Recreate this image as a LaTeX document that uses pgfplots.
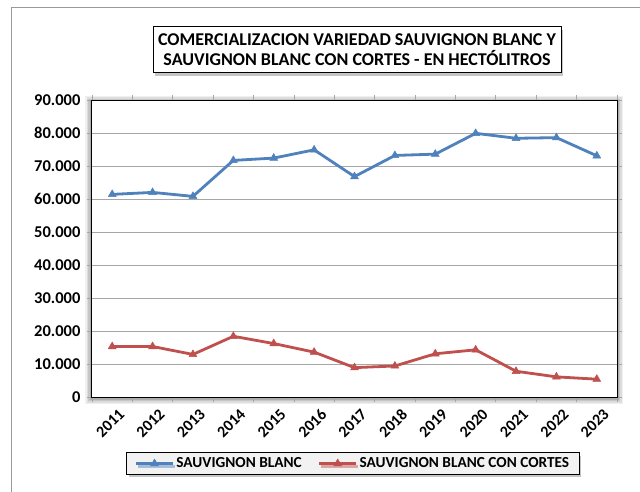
\documentclass[border=0pt]{standalone}
\usepackage{pgfplots}
\pgfplotsset{compat=1.18}
\usepackage{fontspec}
\setmainfont{Carlito}
\usetikzlibrary{shadows}

\definecolor{sbblue}{HTML}{4F81BD}
\definecolor{sbred}{HTML}{C0504D}
\definecolor{gridgray}{HTML}{A6A6A6}

\pgfplotstableread{
idx year blanc cortes
1 2011 61400 15300
2 2012 62000 15300
3 2013 60800 12900
4 2014 71700 18400
5 2015 72400 16200
6 2016 74900 13600
7 2017 66800 8900
8 2018 73200 9400
9 2019 73600 13100
10 2020 79900 14300
11 2021 78400 7800
12 2022 78600 6100
13 2023 73100 5400
}\datos

\begin{document}
\begin{tikzpicture}[x=1pt,y=1pt]
\useasboundingbox (0,0) rectangle (640,491);
\fill[white] (0,0) rectangle (640,491);
% chart frame
\draw[gray!80, line width=1pt] (11,-5) -- (11,483) -- (645,483);
% plot area shadow
\foreach \o/\op in {6/0.06,4.5/0.08,3/0.1,1.5/0.12}{
  \fill[black, opacity=\op] (92-\o-1,94-\o-1) rectangle (617+\o,391+\o-2);
}
% title
\node[draw=black, line width=1pt, fill=white, align=center,
  minimum width=408pt, minimum height=46pt, inner sep=2pt,
  drop shadow={shadow xshift=2pt, shadow yshift=-3pt, opacity=0.45},
  font=\fontsize{18}{20}\selectfont\bfseries]
  at (357,441) {COMERCIALIZACION VARIEDAD SAUVIGNON BLANC Y\\ SAUVIGNON BLANC CON CORTES - EN HECTÓLITROS};
\begin{axis}[
  at={(92pt,94pt)}, anchor=south west,
  width=525pt, height=297pt, scale only axis,
  axis background/.style={fill=white},
  axis line style={black, line width=1pt},
  xmin=0.5, xmax=13.5,
  ymin=0, ymax=90000,
  ytick={0,10000,...,90000},
  xtick={1,...,13},
  xticklabels={2011,2012,2013,2014,2015,2016,2017,2018,2019,2020,2021,2022,2023},
  minor xtick={0.5,1.5,...,13.5},
  major x tick style={draw=none},
  minor x tick style={gridgray, line width=0.8pt},
  y tick style={gridgray, line width=0.8pt},
  tick align=outside,
  minor tick length=5pt,
  major tick length=5pt,
  ymajorgrids,
  grid style={gridgray, line width=0.8pt},
  scaled y ticks=false,
  /pgf/number format/.cd, 1000 sep={.}, assume math mode=true,
  /pgfplots/.cd,
  ticklabel style={font=\fontsize{16.5}{18}\selectfont\bfseries},
  x tick label style={rotate=45, anchor=north east, xshift=1pt, yshift=-7pt,
    inner sep=1pt, font=\fontsize{16}{18}\selectfont\bfseries},
  y tick label style={xshift=-3pt},
  legend columns=-1,
  legend style={at={(0.497,-0.224)}, anchor=center,
    draw=black, line width=1pt, fill=black!5,
    font=\fontsize{15.3}{17}\selectfont\bfseries,
    inner xsep=8pt, inner ysep=3pt,
    drop shadow={shadow xshift=2pt, shadow yshift=-3pt, opacity=0.45},
    /tikz/every even column/.append style={column sep=14pt}},
  legend image code/.code={
    \draw[#1, mark repeat=2, mark phase=2] plot coordinates {(0pt,0pt) (6.5mm,0pt) (13mm,0pt)};},
]
\addplot[sbblue, line width=2.8pt, mark=triangle*, mark size=4.5pt, mark options={solid, line width=0.5pt}] table[x=idx, y=blanc] {\datos};
\addplot[sbred, line width=2.8pt, mark=triangle*, mark size=4.5pt, mark options={solid, line width=0.5pt}] table[x=idx, y=cortes] {\datos};
\legend{SAUVIGNON BLANC, SAUVIGNON BLANC CON CORTES}
\end{axis}
\end{tikzpicture}
\end{document}
